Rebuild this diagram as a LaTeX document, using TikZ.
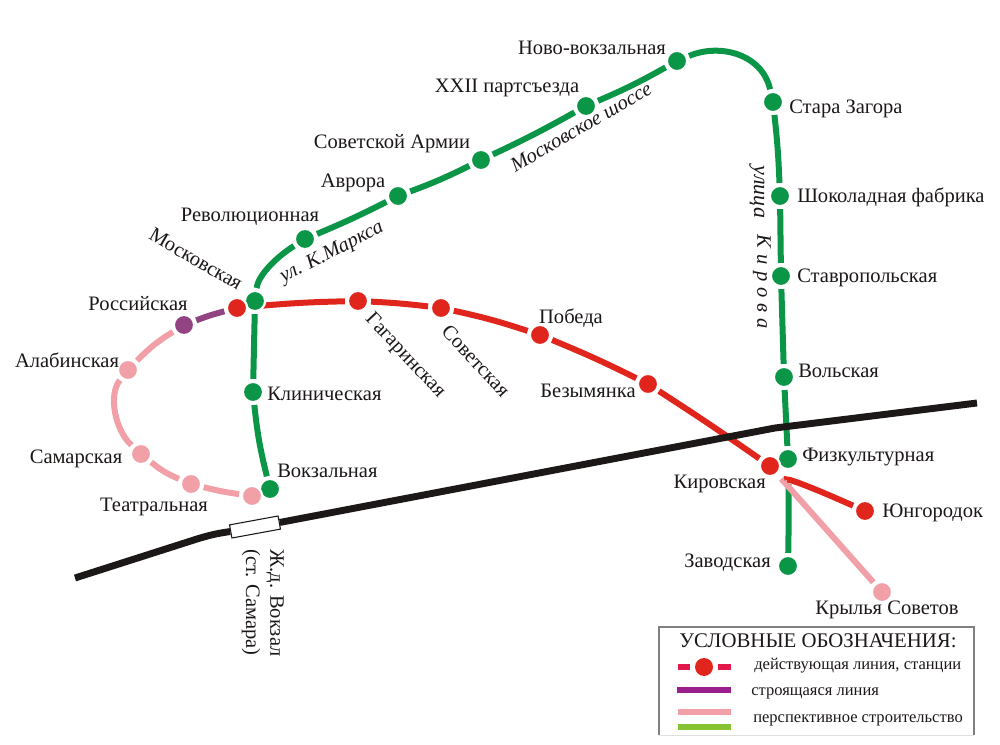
\documentclass[tikz,border=0pt]{standalone}
\usepackage{fontspec}
\setmainfont{Liberation Serif}
\definecolor{mgreen}{HTML}{0A9547}
\definecolor{mred}{HTML}{E0261C}
\definecolor{mpink}{HTML}{F2A0A8}
\definecolor{mpurple}{HTML}{924382}
\definecolor{mblack}{HTML}{1C1817}
\definecolor{lcrim}{HTML}{E2184C}
\definecolor{lpurp}{HTML}{9A1E8C}
\definecolor{lgreen}{HTML}{86C232}
\tikzset{
 stn/.style={circle,inner sep=0pt,minimum size=15.2pt,draw=white,line width=1.7pt,outer sep=2.2pt},
 gs/.style={stn,fill=mgreen},
 rs/.style={stn,fill=mred},
 ps/.style={stn,fill=mpink},
 us/.style={stn,fill=mpurple},
 gl/.style={draw=mgreen,line width=4.5pt},
 rl/.style={draw=mred,line width=4.5pt},
 pl/.style={draw=mpink,line width=4.5pt},
 ul/.style={draw=mpurple,line width=4.5pt},
 rail/.style={draw=mblack,line width=5.2pt},
 lab/.style={font=\fontsize{15.4}{17}\selectfont,text=mblack,inner sep=0pt,yshift=-0.75pt},
 ital/.style={font=\fontsize{15.4}{17}\selectfont\itshape,text=mblack,inner sep=0pt},
 leg/.style={font=\fontsize{12.4}{14}\selectfont,text=mblack,inner sep=0pt,anchor=west},
 lbar/.style={line width=4.4pt},
}
\begin{document}
\begin{tikzpicture}[x=0.75pt,y=-0.75pt]
\useasboundingbox (0,0) rectangle (1000,745);
% green line stations
\node[gs] (novo) at (677,61) {};
\node[gs] (stara) at (773,102) {};
\node[gs] (shok) at (780,196) {};
\node[gs] (stav) at (781,276) {};
\node[gs] (vols) at (784,377) {};
\node[gs] (fizk) at (788,459) {};
\node[gs] (zavod) at (788,566) {};
\node[gs] (xxii) at (586,106) {};
\node[gs] (sova) at (481,160) {};
\node[gs] (avro) at (398,196) {};
\node[gs] (revo) at (305,239) {};
\node[gs] (moskg) at (255,301) {};
\node[gs] (klin) at (253,392) {};
\node[gs] (vokz) at (270,489) {};
% other stations
\node[ps] (vokzp) at (252,496) {};
\node[rs] (moskr) at (237,308) {};
\node[rs] (gaga) at (358,301) {};
\node[rs] (sovt) at (441,308) {};
\node[rs] (pobe) at (540,335) {};
\node[rs] (bezy) at (648,384) {};
\node[rs] (kiro) at (770,466) {};
\node[rs] (yung) at (865,511) {};
\node[us] (ross) at (184,325) {};
\node[ps] (alab) at (128,370) {};
\node[ps] (sama) at (141,454) {};
\node[ps] (teat) at (191,484) {};
\node[ps] (kryl) at (882,592) {};
% green connectors
\draw[gl,shorten <=9pt] (fizk) to[bend left=1] (zavod);
\draw[gl] (vols) -- (fizk);
\draw[gl] (stav) -- (vols);
\draw[gl] (shok) -- (stav);
\draw[gl] (stara) to[bend left=2] (shok);
\draw[gl] (novo) .. controls (720,43) and (762,54) .. (stara);
\draw[gl] (xxii) to[bend right=3] (novo);
\draw[gl] (sova) to[bend right=2] (xxii);
\draw[gl] (avro) to[bend right=3] (sova);
\draw[gl] (revo) to[bend right=2] (avro);
\draw[gl] (moskg) .. controls (258,276) and (275,258) .. (revo);
\draw[gl] (moskg) -- (klin);
\draw[gl] (klin) to[bend right=4] (vokz);
% pink connectors
\draw[pl] (ross) to[bend right=7] (alab);
\draw[pl] (alab) .. controls (108,395) and (115,430) .. (sama);
\draw[pl] (sama) to[bend right=8] (teat);
\draw[pl] (teat) to[bend right=3] (vokzp);
\draw[pl,shorten <=3pt] (kiro) -- (kryl);
% purple
\draw[ul] (ross) to[bend left=3] (moskr);
% red connectors
\draw[rl] (moskr) to[bend left=2] (gaga);
\draw[rl] (gaga) to[bend left=2] (sovt);
\draw[rl] (sovt) to[bend left=3] (pobe);
\draw[rl] (pobe) to[bend left=2] (bezy);
\draw[rl] (bezy) to[bend left=1] (kiro);
\draw[rl,shorten <=7pt] (kiro) .. controls (785,478) and (800,482) .. (yung);
% redraw overlapping nodes on top
\node[gs] at (fizk) {};
\node[rs] at (kiro) {};
\node[gs] at (moskg) {};
\node[rs] at (moskr) {};
\node[gs] at (vokz) {};
\node[ps] at (vokzp) {};
% railway
\coordinate (r0) at (75,578);
\coordinate (r1) at (197,539);
\node[draw=mblack,fill=white,line width=0.8pt,minimum width=37pt,minimum height=10pt,inner sep=0pt,rotate=10.4] (vbox) at (255,527) {};
\coordinate (r2) at (775,428);
\coordinate (r3) at (977,403);
\draw[rail] (r0) -- (r1) to[out=17,in=188] (vbox.west);
\draw[rail] (vbox.east) -- (r2) -- (r3);
% labels
\node[lab] at (592,47) {Ново-вокзальная};
\node[lab,anchor=west] at (789,108) {Стара Загора};
\node[lab,anchor=west] at (797,196) {Шоколадная фабрика};
\node[lab,anchor=west] at (797,277) {Ставропольская};
\node[lab,anchor=west] at (798,370) {Вольская};
\node[lab,anchor=west] at (802,456) {Физкультурная};
\node[lab,anchor=east] at (766,483) {Кировская};
\node[lab,anchor=west] at (882,512) {Юнгородок};
\node[lab,anchor=east] at (771,562) {Заводская};
\node[lab] at (887,609) {Крылья Советов};
\node[lab] at (507,87) {XXII партсъезда};
\node[lab] at (392,143) {Советской Армии};
\node[lab] at (353,182) {Аврора};
\node[lab] at (250,216) {Революционная};
\node[lab,rotate=-30] at (196,258) {Московская};
\node[lab] at (138,303) {Российская};
\node[lab] at (67,359) {Алабинская};
\node[lab] at (76,458) {Самарская};
\node[lab] at (154,506) {Театральная};
\node[lab,anchor=west] at (267,393) {Клиническая};
\node[lab,anchor=west] at (277,470) {Вокзальная};
\node[lab,rotate=-47] at (405,355) {Гагаринская};
\node[lab,rotate=-47] at (476,360) {Советская};
\node[lab] at (571,317) {Победа};
\node[lab] at (588,390) {Безымянка};
\node[lab,rotate=-90,anchor=west] at (275,548) {Ж.д. Вокзал};
\node[lab,rotate=-90,anchor=west] at (251,548) {(ст. Самара)};
\node[ital,rotate=27] at (332,253) {ул. К.Маркса};
\node[ital,rotate=30] at (581,127) {Московское шоссе};
\node[ital,rotate=-90,font=\fontsize{16.5}{18}\selectfont\itshape] at (757,192) {улица};
\node[ital,rotate=-90] at (762,282) {К\hspace{0.3em}и\hspace{0.3em}р\hspace{0.3em}о\hspace{0.3em}в\hspace{0.3em}а};
% legend
\coordinate (f1) at (659,735);
\coordinate (f2) at (659,627);
\coordinate (f3) at (974,627);
\coordinate (f4) at (974,735);
\draw[black!12,line width=0.6pt] (f1) -- (f4);
\draw[black!50,line width=0.9pt] (f1) -- (f2) -- (f3) -- (f4);
\node[font=\fontsize{15.6}{17}\selectfont,text=mblack,inner sep=0pt] at (818,641) {УСЛОВНЫЕ ОБОЗНАЧЕНИЯ:};
\node[circle,fill=mred,minimum size=13.5pt,inner sep=0pt] (ldot) at (704,667) {};
\coordinate (la1) at (678,667); \coordinate (la2) at (690,667);
\coordinate (la3) at (718,667); \coordinate (la4) at (731,667);
\draw[lcrim,lbar] (la1) -- (la2);
\draw[lcrim,lbar] (la3) -- (la4);
\coordinate (lb1) at (677,690); \coordinate (lb2) at (731,690);
\draw[lpurp,lbar] (lb1) -- (lb2);
\coordinate (lc1) at (678,712); \coordinate (lc2) at (731,712);
\draw[mpink,lbar] (lc1) -- (lc2);
\coordinate (ld1) at (678,727); \coordinate (ld2) at (731,727);
\draw[lgreen,lbar] (ld1) -- (ld2);
\node[leg] at (754,666) {действующая линия, станции};
\node[leg] at (751,693) {строящаяся линия};
\node[leg] at (753,720) {перспективное строительство};
\end{tikzpicture}
\end{document}
